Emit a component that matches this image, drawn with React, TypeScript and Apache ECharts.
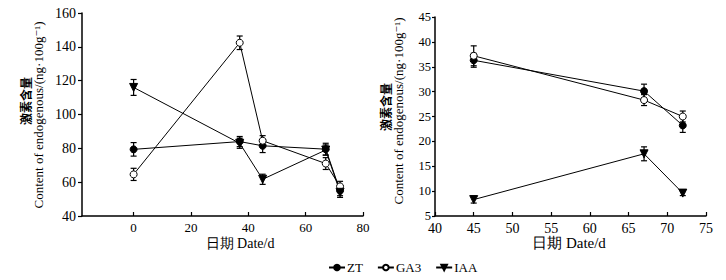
import React, { useEffect, useRef } from "react";
import * as echarts from "echarts";

const legendNames = ["ZT", "GA3", "IAA"];

// Left panel
const leftDays = [0, 37, 45, 67, 72];
const leftZT = [79.4, 84, 81.5, 79.5, 55];
const leftZTErr = [4, 3, 4, 3.5, 3];
const leftGA3 = [64.6, 142.4, 84.5, 71, 57.5];
const leftGA3Err = [3.6, 4, 3, 3.5, 3];
const leftIAA = [116, 83, 61.7, 79, 54];
const leftIAAErr = [4.7, 3, 3, 3, 3];
const leftXTicks = [0, 20, 40, 60, 80];

// Right panel
const rightDays = [45, 67, 72];
const rightZT = [36.3, 30.1, 23.2];
const rightZTErr = [1.4, 1.4, 1.4];
const rightGA3 = [37.2, 28.3, 25];
const rightGA3Err = [2, 1.1, 1.1];
const rightIAA = [8.3, 17.5, 9.6];
const rightIAAErr = [0.7, 1.4, 0.5];

const SERIF = "Times New Roman, Liberation Serif, DejaVu Serif, serif";
const CJK = "Noto Sans CJK SC, sans-serif";

const symbols: Record<string, any> = {
  ZT: { symbol: "circle", fill: "#000", rotate: 0 },
  GA3: { symbol: "circle", fill: "#fff", rotate: 0 },
  IAA: { symbol: "triangle", fill: "#000", rotate: 180 },
};

function lineSeries(name: string, days: number[], vals: number[], idx: number) {
  const s = symbols[name];
  return {
    type: "line",
    name,
    xAxisIndex: idx,
    yAxisIndex: idx,
    data: days.map((d, i) => [d, vals[i]]),
    symbol: s.symbol,
    symbolSize: name === "IAA" ? 8 : 7,
    symbolRotate: s.rotate,
    showSymbol: true,
    lineStyle: { color: "#000", width: 1 },
    itemStyle: { color: s.fill, borderColor: "#000", borderWidth: 1 },
    z: 5,
  };
}

function errSeries(name: string, days: number[], vals: number[], errs: number[], idx: number) {
  return {
    type: "custom",
    name: name + "-err",
    xAxisIndex: idx,
    yAxisIndex: idx,
    data: days.map((d, i) => [d, vals[i] - errs[i], vals[i] + errs[i]]),
    encode: { x: 0, y: [1, 2] },
    z: 3,
    renderItem: (params: any, api: any) => {
      const x = api.value(0);
      const lo = api.value(1);
      const hi = api.value(2);
      const p1 = api.coord([x, hi]);
      const p2 = api.coord([x, lo]);
      const w = 3;
      const st = { stroke: "#000", lineWidth: 1.2 };
      return {
        type: "group",
        children: [
          { type: "line", shape: { x1: p1[0], y1: p1[1], x2: p2[0], y2: p2[1] }, style: st },
          { type: "line", shape: { x1: p1[0] - w, y1: p1[1], x2: p1[0] + w, y2: p1[1] }, style: st },
          { type: "line", shape: { x1: p2[0] - w, y1: p2[1], x2: p2[0] + w, y2: p2[1] }, style: st },
        ],
      };
    },
  };
}

const axisLine = { show: true, onZero: false, lineStyle: { color: "#000", width: 1.5 } };
const labelStyle = { color: "#000", fontFamily: SERIF, fontSize: 13 };

export default function App() {
  const ref = useRef<HTMLDivElement>(null);
  useEffect(() => {
    if (!ref.current) return;
    const chart = echarts.init(ref.current, undefined, { renderer: "svg" });
    const option: any = {
      animation: false,
      backgroundColor: "#fff",
      textStyle: { fontFamily: SERIF, color: "#000" },
      grid: [
        { left: 82, right: 363, top: 13, bottom: 64 },
        { left: 435, right: 20, top: 17, bottom: 64 },
      ],
      xAxis: [
        {
          gridIndex: 0,
          type: "value",
          min: -18,
          max: 80,
          axisLine,
          axisTick: { show: true, inside: true, length: 4, customValues: leftXTicks, lineStyle: { color: "#000", width: 1.2 } },
          axisLabel: { ...labelStyle, margin: 5, customValues: leftXTicks },
          splitLine: { show: false },
        },
        {
          gridIndex: 1,
          type: "value",
          min: 40,
          max: 75,
          interval: 5,
          axisLine,
          axisTick: { show: true, inside: true, length: 4, lineStyle: { color: "#000", width: 1.2 } },
          axisLabel: { ...labelStyle, fontSize: 14, margin: 5 },
          splitLine: { show: false },
        },
      ],
      yAxis: [
        {
          gridIndex: 0,
          type: "value",
          min: 40,
          max: 160,
          interval: 20,
          axisLine,
          axisTick: { show: true, length: 4, lineStyle: { color: "#000", width: 1.2 } },
          axisLabel: { ...labelStyle, fontSize: 14, margin: 6 },
          splitLine: { show: false },
        },
        {
          gridIndex: 1,
          type: "value",
          min: 5,
          max: 45,
          interval: 5,
          axisLine,
          axisTick: { show: true, length: 3, lineStyle: { color: "#000", width: 1.2 } },
          axisLabel: { ...labelStyle, fontSize: 12.5, margin: 4 },
          splitLine: { show: false },
        },
      ],
      legend: {
        data: legendNames,
        left: 323,
        top: 256,
        itemWidth: 16,
        itemHeight: 7,
        itemGap: 14,
        textStyle: { color: "#000", fontFamily: SERIF, fontSize: 13, padding: [0, 0, 0, -3] },
      },
      graphic: [
        { type: "text", x: 25, y: 101, rotation: Math.PI / 2, style: { text: "激素含量", fontFamily: CJK, fontWeight: "bold", fontSize: 12, fill: "#000", align: "center", verticalAlign: "middle" } },
        { type: "text", x: 38, y: 115, rotation: Math.PI / 2, style: { text: "Content of endogenous/(ng·100g⁻¹)", fontFamily: SERIF, fontSize: 13, fill: "#000", align: "center", verticalAlign: "middle" } },
        { type: "text", x: 385, y: 107, rotation: Math.PI / 2, style: { text: "激素含量", fontFamily: CJK, fontWeight: "bold", fontSize: 12, fill: "#000", align: "center", verticalAlign: "middle" } },
        { type: "text", x: 398, y: 111, rotation: Math.PI / 2, style: { text: "Content of endogenous/(ng·100g⁻¹)", fontFamily: SERIF, fontSize: 13, fill: "#000", align: "center", verticalAlign: "middle" } },
        { type: "text", x: 240, y: 243, style: { text: "日期 Date/d", fontFamily: SERIF, fontSize: 14, fill: "#000", align: "center", verticalAlign: "middle" } },
        { type: "text", x: 569, y: 243, style: { text: "日期 Date/d", fontFamily: SERIF, fontSize: 15, fill: "#000", align: "center", verticalAlign: "middle" } },
      ],
      series: [
        errSeries("ZT", leftDays, leftZT, leftZTErr, 0),
        errSeries("GA3", leftDays, leftGA3, leftGA3Err, 0),
        errSeries("IAA", leftDays, leftIAA, leftIAAErr, 0),
        errSeries("ZT", rightDays, rightZT, rightZTErr, 1),
        errSeries("GA3", rightDays, rightGA3, rightGA3Err, 1),
        errSeries("IAA", rightDays, rightIAA, rightIAAErr, 1),
        lineSeries("ZT", leftDays, leftZT, 0),
        lineSeries("GA3", leftDays, leftGA3, 0),
        lineSeries("IAA", leftDays, leftIAA, 0),
        lineSeries("ZT", rightDays, rightZT, 1),
        lineSeries("GA3", rightDays, rightGA3, 1),
        lineSeries("IAA", rightDays, rightIAA, 1),
      ],
    };
    chart.setOption(option);
    return () => chart.dispose();
  }, []);
  return <div ref={ref} style={{ position: "fixed", left: 0, top: 0, width: 726, height: 280 }} />;
}
